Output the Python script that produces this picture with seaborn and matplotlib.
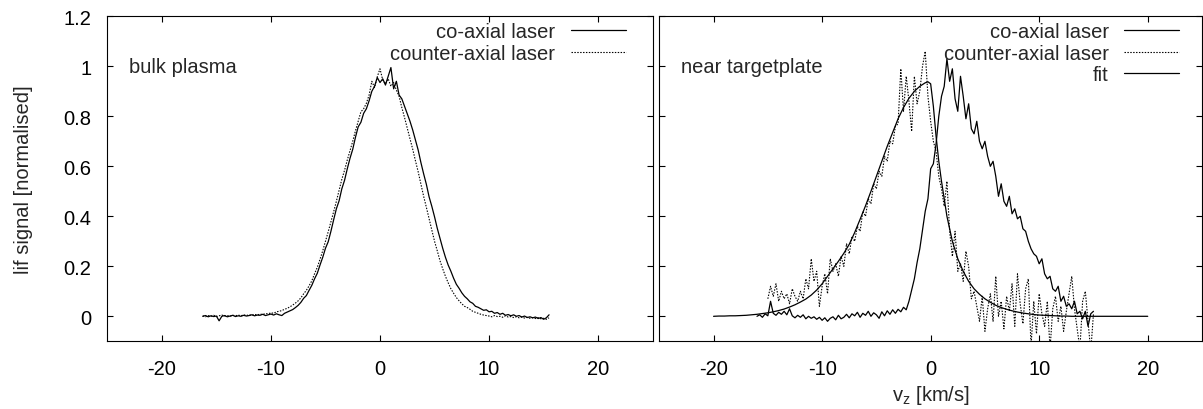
import numpy as np
import matplotlib
matplotlib.use('Agg')
import matplotlib.pyplot as plt
from matplotlib.ticker import FormatStrFormatter
import seaborn as sns

# sampling of the measured lif profiles, km/s
step = 0.25
bulk_start = -16.25
tgt_co_start = -16.0
tgt_ctr_start = -15.0

# bulk plasma, co-axial laser
bulk_co = [
    0.000,
    0.003, -0.002, 0.002, -0.001,
    0.001, -0.018, 0.000, 0.003,
    -0.002, 0.001, 0.004, -0.001,
    0.002, 0.000, 0.004, 0.001,
    0.003, 0.006, 0.002, 0.005,
    0.004, 0.008, 0.003, 0.006,
    0.009, 0.005, 0.010, 0.006,
    0.003, 0.012, 0.017, 0.022,
    0.027, 0.035, 0.044, 0.056,
    0.072, 0.083, 0.104, 0.124,
    0.150, 0.172, 0.205, 0.236,
    0.272, 0.298, 0.340, 0.386,
    0.430, 0.462, 0.510, 0.544,
    0.590, 0.632, 0.668, 0.716,
    0.758, 0.776, 0.812, 0.830,
    0.862, 0.900, 0.920, 0.955,
    0.935, 0.950, 0.925, 0.960,
    0.995, 0.910, 0.940, 0.885,
    0.870, 0.840, 0.810, 0.780,
    0.745, 0.705, 0.665, 0.615,
    0.570, 0.528, 0.478, 0.440,
    0.398, 0.352, 0.312, 0.272,
    0.236, 0.205, 0.180, 0.152,
    0.128, 0.112, 0.094, 0.080,
    0.070, 0.058, 0.052, 0.040,
    0.036, 0.030, 0.024, 0.026,
    0.018, 0.020, 0.012, 0.015,
    0.008, 0.012, 0.004, 0.007,
    0.002, 0.006, 0.000, 0.003,
    -0.003, 0.001, -0.005, -0.002,
    -0.006, -0.003, -0.009, -0.005,
    -0.012, -0.006, 0.006,
]

# bulk plasma, counter-axial laser
bulk_ctr = [
    0.002,
    -0.002, 0.003, 0.000, 0.004,
    -0.001, 0.002, 0.005, 0.001,
    0.003, 0.000, 0.004, 0.002,
    0.005, 0.002, 0.006, 0.003,
    0.006, 0.004, 0.008, 0.005,
    0.009, 0.007, 0.011, 0.010,
    0.014, 0.012, 0.018, 0.020,
    0.023, 0.028, 0.032, 0.038,
    0.045, 0.053, 0.062, 0.074,
    0.090, 0.104, 0.122, 0.142,
    0.170, 0.196, 0.228, 0.262,
    0.300, 0.338, 0.378, 0.418,
    0.460, 0.504, 0.548, 0.584,
    0.625, 0.662, 0.700, 0.742,
    0.780, 0.818, 0.830, 0.852,
    0.885, 0.940, 0.915, 0.958,
    0.990, 0.945, 0.930, 0.950,
    0.920, 0.935, 0.905, 0.880,
    0.835, 0.795, 0.752, 0.710,
    0.668, 0.622, 0.578, 0.528,
    0.480, 0.436, 0.390, 0.345,
    0.300, 0.262, 0.222, 0.190,
    0.160, 0.134, 0.110, 0.092,
    0.075, 0.062, 0.050, 0.040,
    0.035, 0.028, 0.020, 0.016,
    0.012, 0.008, 0.005, 0.003,
    0.001, -0.002, 0.003, -0.001,
    0.000, -0.004, 0.002, -0.003,
    -0.001, -0.005, -0.002, -0.006,
    -0.003, -0.007, -0.004, -0.008,
    -0.006, -0.009, -0.005, -0.010,
    -0.008, -0.012, -0.006,
]

# near targetplate, co-axial laser
tgt_co = [
    0.000, 0.006, -0.004, 0.010,
    0.002, 0.060, 0.012, 0.004,
    0.016, 0.008, 0.020, 0.006,
    0.030, 0.002, -0.006, 0.004,
    -0.004, 0.006, -0.010, 0.000,
    -0.008, -0.002, -0.012, -0.004,
    -0.016, -0.006, -0.020, -0.008,
    -0.002, -0.014, 0.004, -0.010,
    -0.004, 0.008, -0.006, 0.010,
    0.002, 0.016, -0.004, 0.012,
    0.004, 0.020, 0.000, 0.014,
    0.006, -0.008, 0.018, 0.002,
    0.022, 0.008, 0.026, 0.012,
    0.028, 0.018, 0.036, 0.026,
    0.060, 0.105, 0.150, 0.215,
    0.270, 0.345, 0.420, 0.470,
    0.590, 0.610, 0.690, 0.800,
    0.880, 0.920, 1.030, 0.940,
    0.990, 0.870, 0.820, 0.960,
    0.880, 0.790, 0.850, 0.750,
    0.730, 0.780, 0.700, 0.670,
    0.700, 0.640, 0.600, 0.620,
    0.560, 0.480, 0.530, 0.460,
    0.440, 0.480, 0.410, 0.430,
    0.390, 0.400, 0.350, 0.340,
    0.300, 0.270, 0.250, 0.240,
    0.210, 0.230, 0.170, 0.150,
    0.160, 0.110, 0.100, 0.120,
    0.060, 0.080, 0.040, 0.050,
    0.030, 0.060, 0.010, 0.020,
    -0.010, 0.020, -0.040, 0.010,
    0.020,
]

# near targetplate, counter-axial laser
tgt_ctr = [
    0.070, 0.120, 0.080, 0.130,
    0.060, 0.100, 0.070, 0.090,
    0.050, 0.110, 0.080, 0.060,
    0.100, 0.070, 0.150, 0.110,
    0.230, 0.140, 0.180, 0.040,
    0.120, 0.170, 0.090, 0.230,
    0.180, 0.210, 0.160, 0.240,
    0.200, 0.290, 0.250, 0.320,
    0.300, 0.360, 0.340, 0.420,
    0.400, 0.470, 0.450, 0.530,
    0.510, 0.580, 0.560, 0.640,
    0.620, 0.700, 0.690, 0.760,
    0.770, 0.990, 0.820, 0.960,
    0.860, 0.740, 0.960, 0.850,
    0.900, 1.000, 1.060, 0.880,
    0.780, 0.700, 0.660, 0.560,
    0.510, 0.440, 0.540, 0.340,
    0.240, 0.340, 0.180, 0.210,
    0.140, 0.260, 0.200, 0.070,
    0.100, 0.040, -0.020, 0.080,
    -0.060, 0.030, 0.090, -0.020,
    0.160, 0.000, 0.060, -0.050,
    0.080, 0.020, 0.130, -0.040,
    0.170, 0.050, -0.030, 0.110,
    0.150, -0.120, 0.060, -0.070,
    0.090, 0.010, -0.040, 0.060,
    -0.130, 0.030, 0.080, -0.020,
    0.040, -0.060, 0.020, 0.090,
    0.160, 0.030, -0.050, -0.130,
    0.060, 0.100, -0.020, -0.140,
    0.010,
]

# fitted profile (counter-axial, near targetplate)
fit_v = np.r_[np.arange(-20, 0, 0.5), [-0.25, 0.0, 0.25, 0.5, 0.75], np.arange(1, 20.01, 0.5)]
fit_val = [
    0.000, 0.001, 0.001, 0.002, 0.002, 0.003, 0.004, 0.006, 0.008, 0.011,
    0.014, 0.018, 0.023, 0.029, 0.037, 0.046, 0.057, 0.069, 0.085, 0.105,
    0.130, 0.160, 0.190, 0.220, 0.252, 0.288, 0.335, 0.388, 0.442, 0.500,
    0.560, 0.620, 0.680, 0.735, 0.790, 0.835, 0.872, 0.900, 0.920, 0.934,
    0.938, 0.930, 0.840, 0.720, 0.620,
    0.540, 0.400, 0.300, 0.230, 0.180, 0.140, 0.110, 0.088, 0.070, 0.056,
    0.044, 0.035, 0.028, 0.022, 0.017, 0.013, 0.010, 0.007, 0.005, 0.004,
    0.003, 0.002, 0.001, 0.001,
    0.0, 0.0, 0.0, 0.0, 0.0, 0.0, 0.0, 0.0, 0.0, 0.0, 0.0, 0.0, 0.0, 0.0, 0.0,
]

labels = ['co-axial laser', 'counter-axial laser', 'fit']
panel_titles = ['bulk plasma', 'near targetplate']
x_ticks = [-20, -10, 0, 10, 20]
y_ticks = [0, 0.2, 0.4, 0.6, 0.8, 1.0, 1.2]


def grid(start, vals):
    return start + step * np.arange(len(vals))


sns.set_style('ticks')
plt.rcParams['font.family'] = ['Liberation Sans', 'DejaVu Sans']
plt.rcParams['mathtext.default'] = 'regular'
plt.rcParams['axes.linewidth'] = 0.8

FS = 14.5
solid = '-'
dotted = (0, (1.3, 1.3))

fig = plt.figure(figsize=(12.03, 4.10), dpi=100)
W, H = 1203.0, 410.0
ax1 = fig.add_axes([107.3 / W, 1 - 342.3 / H, 545.4 / W, 325.0 / H])
ax2 = fig.add_axes([659.3 / W, 1 - 342.3 / H, 542.7 / W, 325.0 / H])


def line(ax, v, y, ls, label, lw=0.9):
    sns.lineplot(x=v, y=y, ax=ax, color='black', linewidth=lw, linestyle=ls,
                 label=label, estimator=None, sort=False)


line(ax1, grid(bulk_start, bulk_co), bulk_co, solid, labels[0])
line(ax1, grid(bulk_start, bulk_ctr), bulk_ctr, dotted, labels[1], 0.8)

line(ax2, grid(tgt_co_start, tgt_co), tgt_co, solid, labels[0])
line(ax2, grid(tgt_ctr_start, tgt_ctr), tgt_ctr, dotted, labels[1], 0.8)
line(ax2, fit_v, fit_val, solid, labels[2])

for ax, title, lx in [(ax1, panel_titles[0], 0.951), (ax2, panel_titles[1], 0.958)]:
    ax.set_xlim(-25, 25)
    ax.set_ylim(-0.1, 1.2)
    ax.set_xticks(x_ticks)
    ax.set_yticks(y_ticks)
    ax.xaxis.set_major_formatter(FormatStrFormatter('%g'))
    ax.yaxis.set_major_formatter(FormatStrFormatter('%g'))
    ax.tick_params(direction='in', top=True, right=True, length=4.5, width=0.8,
                   labelsize=FS, colors='black')
    ax.tick_params(axis='y', pad=11.5)
    ax.tick_params(axis='x', pad=12.5)
    for s in ax.spines.values():
        s.set_visible(True)
        s.set_color('black')
    ax.set_xlabel('')
    ax.set_ylabel('')
    ax.text(-23, 0.976, title, fontsize=FS, ha='left', va='baseline')
    ax.legend(loc='upper right', bbox_to_anchor=(lx, 0.982), frameon=False,
              fontsize=FS, markerfirst=False, handlelength=2.75, handletextpad=0.75,
              borderpad=0, borderaxespad=0, labelspacing=0.12)

ax2.tick_params(labelleft=False)
ax1.set_ylabel('lif signal [normalised]', fontsize=FS)
ax1.yaxis.set_label_coords(-0.136, 0.5)
ax2.set_xlabel('v$_z$ [km/s]', fontsize=FS, labelpad=3.5)

fig.savefig('out.png', dpi=100)
